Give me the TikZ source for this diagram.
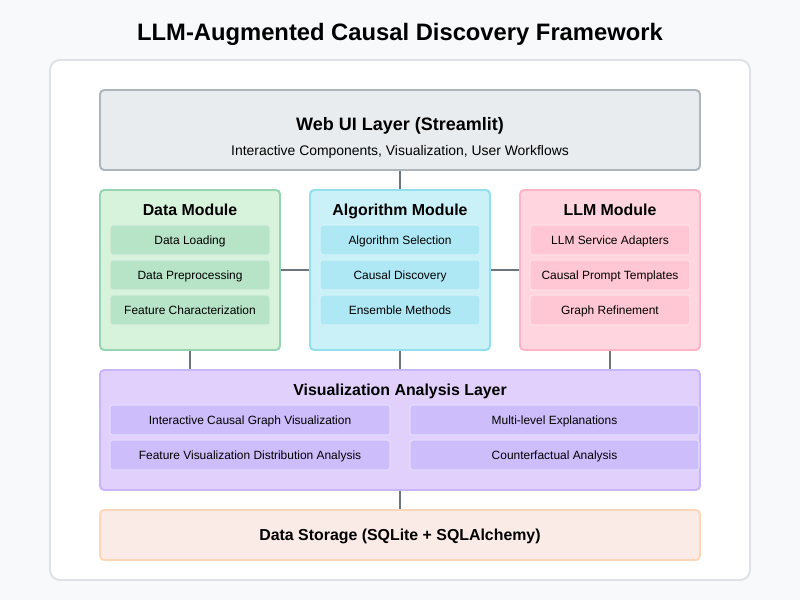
\documentclass[tikz,border=0pt]{standalone}
\usepackage{fontspec}
\setmainfont{Liberation Sans}
\usetikzlibrary{positioning}

\definecolor{pagebg}{HTML}{F8F9FA}
\definecolor{frameline}{HTML}{DEE2E6}
\definecolor{linkgray}{HTML}{6C757D}
\definecolor{webfill}{HTML}{E9ECEF}
\definecolor{webline}{HTML}{ADB5BD}
\definecolor{datafill}{HTML}{D8F3DC}
\definecolor{dataline}{HTML}{95D5B2}
\definecolor{dataitem}{HTML}{B7E4C7}
\definecolor{algofill}{HTML}{CAF0F8}
\definecolor{algoline}{HTML}{90E0EF}
\definecolor{algoitem}{HTML}{ADE8F4}
\definecolor{llmfill}{HTML}{FFD6E0}
\definecolor{llmline}{HTML}{FFB3C6}
\definecolor{llmitem}{HTML}{FFC6D3}
\definecolor{visfill}{HTML}{E0D0FB}
\definecolor{visline}{HTML}{C8B6F8}
\definecolor{visitem}{HTML}{CDBDFB}
\definecolor{storefill}{HTML}{FBEBE7}
\definecolor{storeline}{HTML}{FFD6B8}

\tikzset{
  layerbox/.style 2 args={draw=#1, fill=#2, line width=1.4pt, rounded corners=3pt, inner sep=0pt},
  itembox/.style={fill=#1, draw=white!45!#1, line width=0.8pt, rounded corners=2pt,
    minimum width=160*0.025cm, minimum height=30*0.025cm, inner sep=0pt, text depth=0pt,
    font=\fontsize{8.5}{10}\selectfont},
  boxtitle/.style={font=\bfseries\fontsize{11.3}{13}\selectfont, text depth=0pt},
  link/.style={draw=linkgray, line width=1.4pt}
}

\begin{document}
\begin{tikzpicture}[x=0.025cm,y=-0.025cm]
  % page and frame
  \fill[pagebg] (0,0) rectangle (800,600);
  \draw[frameline, fill=white, line width=1.4pt, rounded corners=7pt] (50,60) rectangle (750,580);
  \node[font=\bfseries\fontsize{16.9}{20}\selectfont, text depth=0pt] (title) at (400,32) {LLM-Augmented Causal Discovery Framework};

  % web ui layer
  \node[layerbox={webline}{webfill}, minimum width=600*0.025cm, minimum height=80*0.025cm] (webui) at (400,130) {};
  \node[boxtitle, font=\bfseries\fontsize{12.8}{15}\selectfont] (webtitle) at (400,124) {Web UI Layer (Streamlit)};
  \node[font=\fontsize{9.9}{12}\selectfont, text depth=0pt] (websub) at (400,150) {Interactive Components, Visualization, User Workflows};

  % modules
  \node[layerbox={dataline}{datafill}, minimum width=180*0.025cm, minimum height=160*0.025cm] (data) at (190,270) {};
  \node[layerbox={algoline}{algofill}, minimum width=180*0.025cm, minimum height=160*0.025cm] (algo) at (400,270) {};
  \node[layerbox={llmline}{llmfill}, minimum width=180*0.025cm, minimum height=160*0.025cm] (llm) at (610,270) {};
  \node[boxtitle] (datatitle) at (190,210) {Data Module};
  \node[boxtitle] (algotitle) at (400,210) {Algorithm Module};
  \node[boxtitle] (llmtitle) at (610,210) {LLM Module};

  \node[itembox=dataitem] (load) at (190,240) {Data Loading};
  \node[itembox=dataitem] (prep) at (190,275) {Data Preprocessing};
  \node[itembox=dataitem] (feat) at (190,310) {Feature Characterization};

  \node[itembox=algoitem] (select) at (400,240) {Algorithm Selection};
  \node[itembox=algoitem] (discover) at (400,275) {Causal Discovery};
  \node[itembox=algoitem] (ensemble) at (400,310) {Ensemble Methods};

  \node[itembox=llmitem] (adapt) at (610,240) {LLM Service Adapters};
  \node[itembox=llmitem] (prompt) at (610,275) {Causal Prompt Templates};
  \node[itembox=llmitem] (refine) at (610,310) {Graph Refinement};

  % visualization layer
  \node[layerbox={visline}{visfill}, minimum width=600*0.025cm, minimum height=120*0.025cm] (vis) at (400,430) {};
  \node[boxtitle] (vistitle) at (400,390) {Visualization Analysis Layer};
  \node[itembox=visitem, minimum width=280*0.025cm] (graphvis) at (250,420) {Interactive Causal Graph Visualization};
  \node[itembox=visitem, minimum width=280*0.025cm] (distvis) at (250,455) {Feature Visualization Distribution Analysis};
  \node[itembox=visitem, minimum width=289*0.025cm] (explain) at (554.5,420) {Multi-level Explanations};
  \node[itembox=visitem, minimum width=289*0.025cm] (counter) at (554.5,455) {Counterfactual Analysis};

  % storage
  \node[layerbox={storeline}{storefill}, minimum width=600*0.025cm, minimum height=50*0.025cm] (store) at (400,535) {};
  \node[boxtitle] (storetitle) at (400,535) {Data Storage (SQLite + SQLAlchemy)};

  % connectors
  \draw[link] (webui.south) -- (algo.north);
  \draw[link] (data.east) -- (algo.west);
  \draw[link] (algo.east) -- (llm.west);
  \draw[link] (data.south) -- (data.south |- vis.north);
  \draw[link] (algo.south) -- (vis.north);
  \draw[link] (llm.south) -- (llm.south |- vis.north);
  \draw[link] (vis.south) -- (store.north);
\end{tikzpicture}
\end{document}
